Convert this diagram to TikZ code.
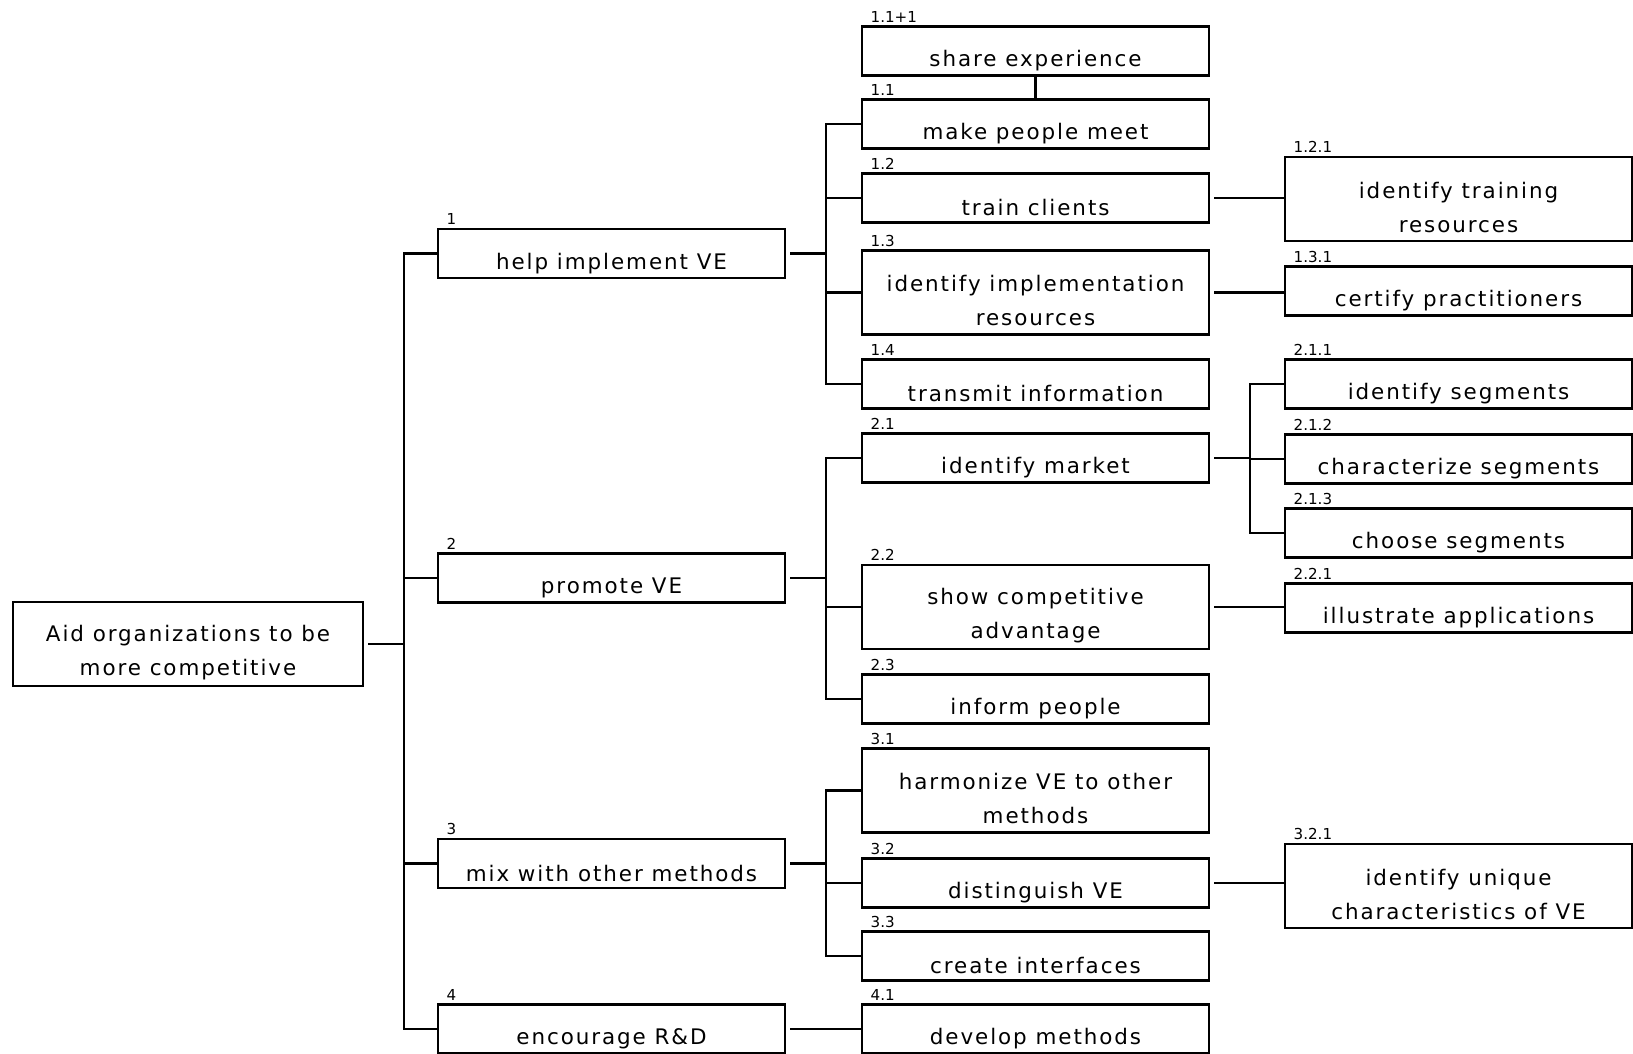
\documentclass[tikz,border=0pt]{standalone}
\usepackage{fontspec}
\setmainfont[LetterSpace=9]{DejaVu Sans}
\newfontfamily\fastnumfont{DejaVu Sans}
\begin{document}
\begin{tikzpicture}[
  x=0.1mm, y=-0.1mm,
  fastbox/.style = {draw, line width=0.6pt, inner sep=0pt,
    minimum width=34.7mm, minimum height=4.9mm, align=center,
    font=\fontsize{6.1pt}{9.7pt}\selectfont,
    execute at begin node={\rule{0pt}{3.6mm}}},
  fasttall/.style = {fastbox, minimum height=8.4mm,
    execute at begin node={\rule{0pt}{6.7mm}}},
  fastnum/.style = {font=\fastnumfont\fontsize{4.3pt}{5pt}\selectfont,
    inner sep=0pt, anchor=base west},
  fastwire/.style = {line width=0.6pt, shorten <=0.4mm}
]
  \useasboundingbox (0,0) rectangle (1633,1054);
  % goal
  \node[fasttall, minimum width=35mm] (root) at (188,644)
    {Aid organizations to be\\more competitive};
  % first level
  \node[fastbox] (help)      at (611.5,253.5) {help implement VE};
  \node[fastbox] (promote)   at (611.5,578)   {promote VE};
  \node[fastbox] (mix)       at (611.5,863.5) {mix with other methods};
  \node[fastbox] (encourage) at (611.5,1029)  {encourage R\&D};
  % second level
  \node[fastbox]  (share)       at (1035.5,51)    {share experience};
  \node[fastbox]  (meet)        at (1035.5,124)   {make people meet};
  \node[fastbox]  (train)       at (1035.5,198)   {train clients};
  \node[fasttall] (implres)     at (1035.5,292.5) {identify implementation\\resources};
  \node[fastbox]  (transmit)    at (1035.5,384)   {transmit information};
  \node[fastbox]  (market)      at (1035.5,458)   {identify market};
  \node[fasttall] (advantage)   at (1035.5,607)   {show competitive\\advantage};
  \node[fastbox]  (inform)      at (1035.5,699)   {inform people};
  \node[fasttall] (harmonize)   at (1035.5,790.5) {harmonize VE to other\\methods};
  \node[fastbox]  (distinguish) at (1035.5,883)   {distinguish VE};
  \node[fastbox]  (interfaces)  at (1035.5,956)   {create interfaces};
  \node[fastbox]  (develop)     at (1035.5,1029)  {develop methods};
  % third level
  \node[fasttall] (trainres)   at (1458.5,199) {identify training\\resources};
  \node[fastbox]  (certify)    at (1458.5,291) {certify practitioners};
  \node[fastbox]  (segid)      at (1458.5,384) {identify segments};
  \node[fastbox]  (segchar)    at (1458.5,459) {characterize segments};
  \node[fastbox]  (segchoose)  at (1458.5,533) {choose segments};
  \node[fastbox]  (illustrate) at (1458.5,608) {illustrate applications};
  \node[fasttall] (unique)     at (1458.5,886) {identify unique\\characteristics of VE};
  % numbers
  \foreach \b/\t in {help/1, promote/2, mix/3, encourage/4,
      share/1.1+1, meet/1.1, train/1.2, implres/1.3, transmit/1.4,
      market/2.1, advantage/2.2, inform/2.3, harmonize/3.1,
      distinguish/3.2, interfaces/3.3, develop/4.1,
      trainres/1.2.1, certify/1.3.1, segid/2.1.1, segchar/2.1.2,
      segchoose/2.1.3, illustrate/2.2.1, unique/3.2.1}
    \node[fastnum] (n-\b) at ([shift={(9,-3)}]\b.north west) {\t};
  % connectors
  \foreach \c in {help,promote,mix,encourage}
    \draw[fastwire] (root.east) -- ++(40,0) |- (\c.west);
  \foreach \c in {meet,train,implres,transmit}
    \draw[fastwire] (help.east) -- ++(40,0) |- (\c.west);
  \foreach \c in {market,advantage,inform}
    \draw[fastwire] (promote.east) -- ++(40,0) |- (\c.west);
  \foreach \c in {harmonize,distinguish,interfaces}
    \draw[fastwire] (mix.east) -- ++(40,0) |- (\c.west);
  \foreach \c in {segid,segchar,segchoose}
    \draw[fastwire] (market.east) -- ++(40,0) |- (\c.west);
  \foreach \a/\c in {encourage/develop, train/trainres, implres/certify,
      advantage/illustrate, distinguish/unique}
    \draw[fastwire] (\a.east) -- (\a.east -| \c.west);
  \draw[line width=0.6pt] (share.south) -- (meet.north);
\end{tikzpicture}
\end{document}
